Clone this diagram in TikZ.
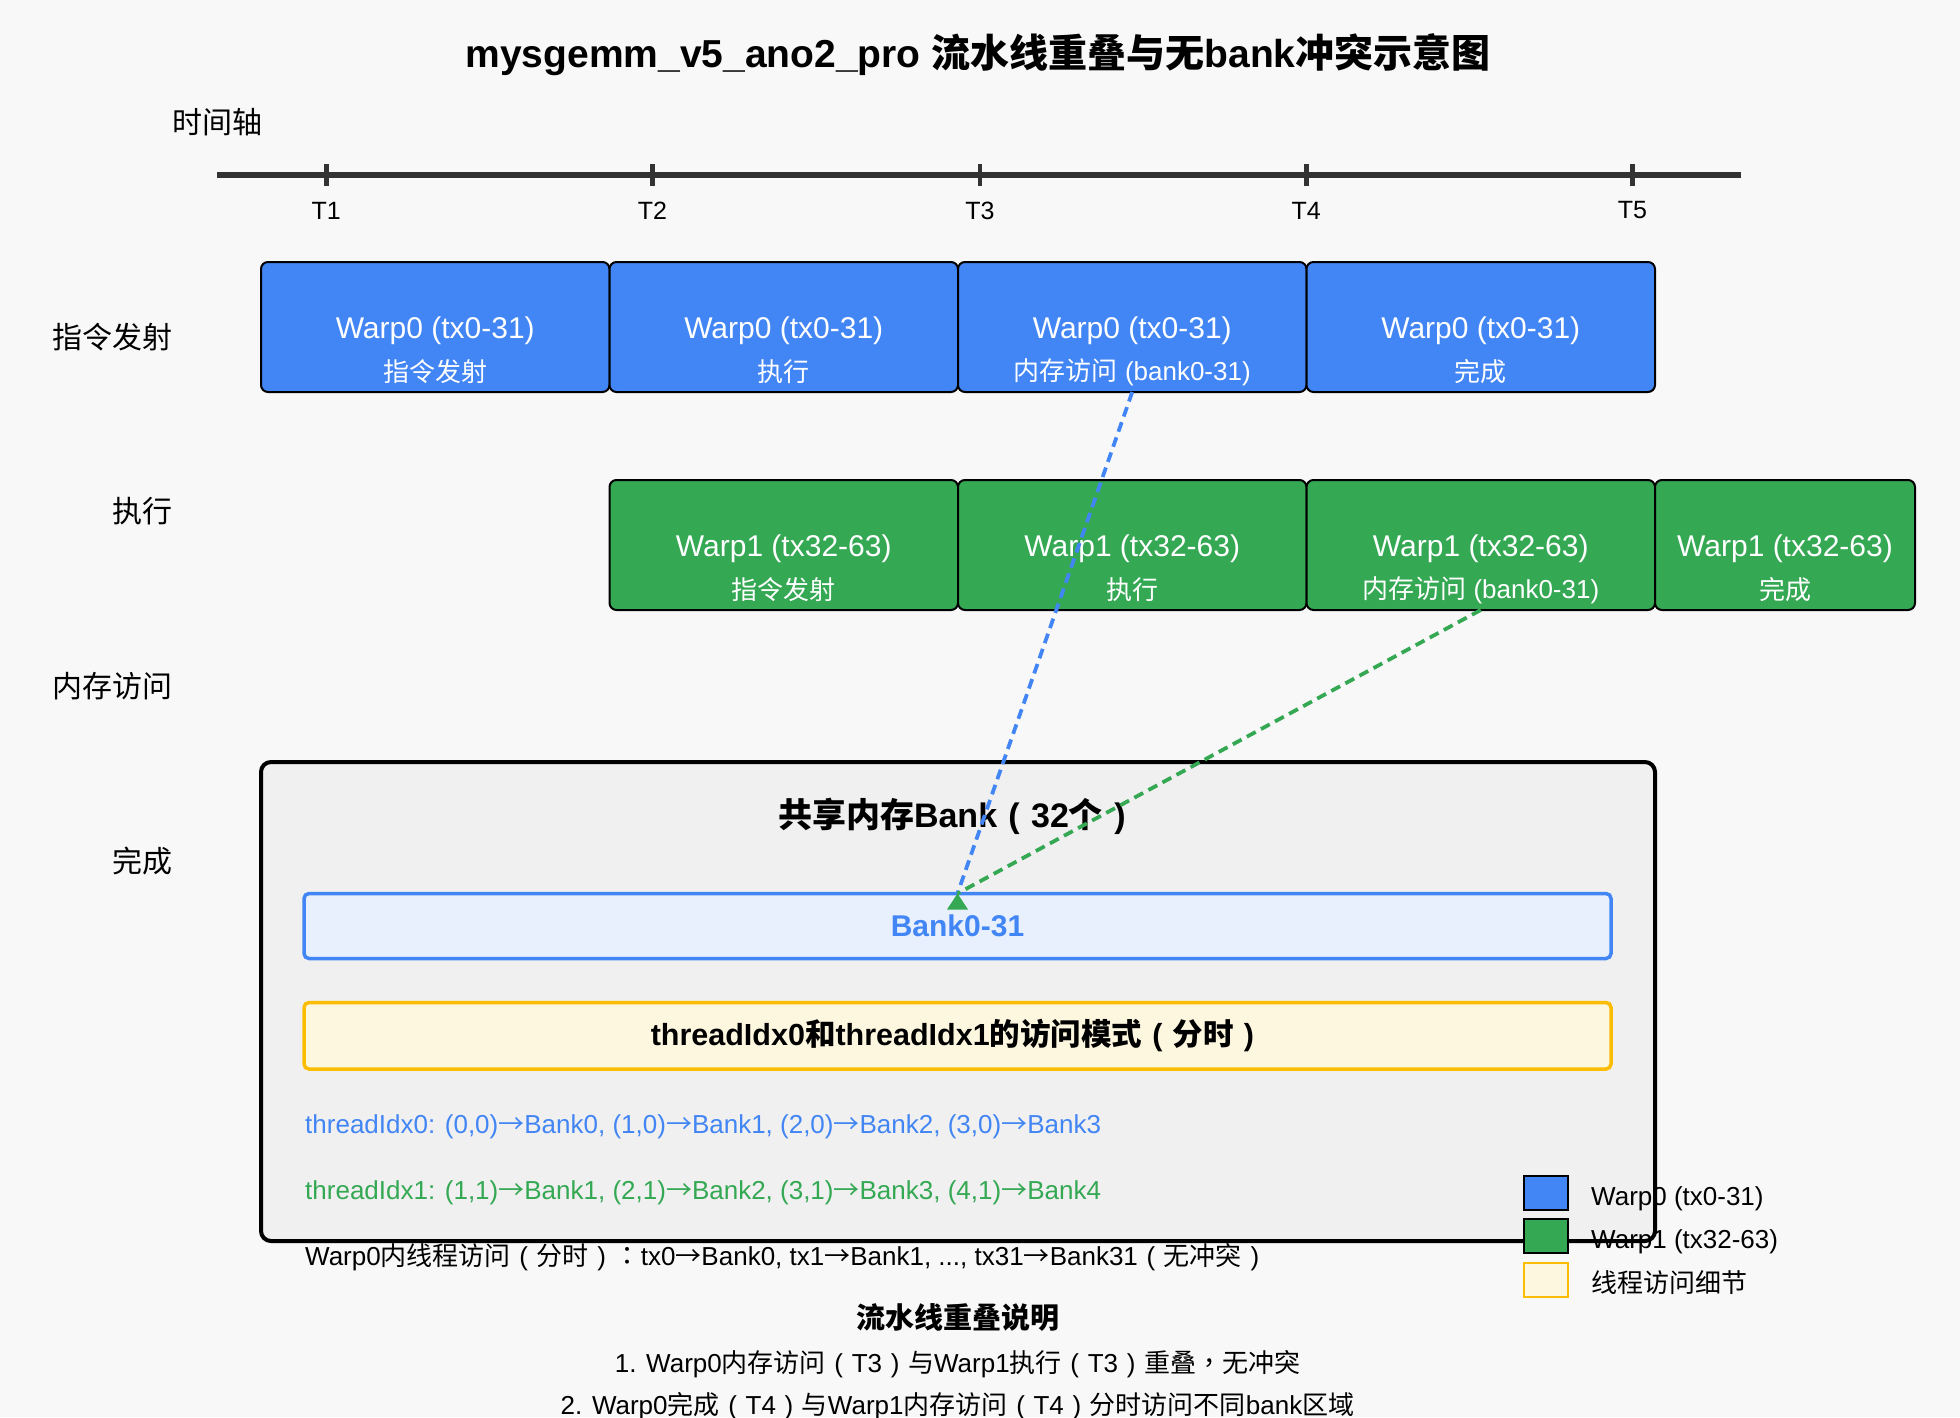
\documentclass[tikz,border=0pt]{standalone}
\usepackage{fontspec}
\setmainfont{Liberation Sans}
\newfontfamily\cjk{Noto Sans CJK SC}
\newfontfamily\cjkp{Noto Sans CJK TC}
\newcommand{\zh}[1]{{\cjk #1}}
\newcommand{\fw}[1]{{\cjkp #1}}
\newcommand{\lp}{\makebox[1em]{(}}
\newcommand{\rp}{\makebox[1em]{)}}
\newcommand{\ar}{\zh{→}}
\newcommand{\fs}[1]{\fontsize{#1pt}{#1pt}\selectfont}
\usepackage{tikz}
\usetikzlibrary{positioning}
\definecolor{wblue}{HTML}{4285F4}
\definecolor{wgreen}{HTML}{34A853}
\definecolor{wyellow}{HTML}{FBBC04}
\definecolor{lyellow}{HTML}{FEF7E0}
\definecolor{lblue}{HTML}{E8F0FE}
\definecolor{axisgray}{HTML}{333333}
\definecolor{bggray}{HTML}{F8F8F8}
\definecolor{boxgray}{HTML}{F0F0F0}

\begin{document}
\begin{tikzpicture}[x=1pt,y=-1pt,
  warp/.style={draw=black,line width=2pt,rounded corners=7pt,minimum height=130pt,minimum width=348.5pt,inner sep=0pt,outer sep=0pt,text=white,font=\fs{30}},
  w0box/.style={warp,fill=wblue},
  w1box/.style={warp,fill=wgreen},
  main/.style={text=white,font=\fs{30},inner sep=0pt},
  sub/.style={text=white,font=\fs{26},inner sep=0pt},
  rowlab/.style={anchor=east,font=\fs{30},inner sep=0pt},
  tlab/.style={font=\fs{25},inner sep=0pt},
  detail/.style={anchor=west,font=\fs{26},inner sep=0pt},
  legbox/.style={draw=black,line width=2pt,minimum width=44pt,minimum height=34pt,inner sep=0pt,outer sep=0pt},
  leglab/.style={font=\fs{26},inner sep=0pt},
  flow/.style={dashed,line width=3.75pt,dash pattern=on 10pt off 6pt}]
\useasboundingbox (0,0) rectangle (1960,1417);
\clip (0,0) rectangle (1960,1417);
\fill[bggray] (0,0) rectangle (1960,1417);

% title and time axis
\node[font=\fs{39}\bfseries] (title) at (978,55) {mysgemm\_v5\_ano2\_pro \zh{流水线重叠与无}bank\zh{冲突示意图}};
\node[font=\fs{30},inner sep=0pt] (axlab) at (217,122) {\zh{时间轴}};
\coordinate (ax0) at (217,175);
\coordinate (ax1) at (1741,175);
\draw[axisgray,line width=6pt] (ax0)--(ax1);
\foreach \t [count=\k] in {326.25,652.5,980,1306.25,1632.5}{
  \draw[axisgray,line width=4.5pt] (\t,164)--(\t,186);
  \node[tlab] (t\k) at (\t,210.5) {T\k};
}

% stage labels
\node[rowlab] (r1) at (172.5,337) {\zh{指令发射}};
\node[rowlab] (r2) at (172.5,511) {\zh{执行}};
\node[rowlab] (r3) at (172.5,686) {\zh{内存访问}};
\node[rowlab] (r4) at (172.5,861) {\zh{完成}};

% warp 0
\node[w0box,anchor=north west] (w0-1) at (261,262) {};
\node[w0box,right=0pt of w0-1] (w0-2) {};
\node[w0box,right=0pt of w0-2] (w0-3) {};
\node[w0box,right=0pt of w0-3] (w0-4) {};
\foreach \b/\s in {1/\zh{指令发射},2/\zh{执行},3/{\zh{内存访问} (bank0-31)},4/\zh{完成}}{
  \node[main] (w0-\b m) at ([yshift=-4pt]w0-\b.center) {Warp0 (tx0-31)};
  \node[sub] (w0-\b s) at ([yshift=-45pt]w0-\b.center) {\s};
}

% warp 1
\node[w1box,anchor=north west] (w1-1) at (609.5,480) {};
\node[w1box,right=0pt of w1-1] (w1-2) {};
\node[w1box,right=0pt of w1-2] (w1-3) {};
\node[w1box,right=0pt of w1-3,minimum width=260pt] (w1-4) {};
\foreach \b/\s in {1/\zh{指令发射},2/\zh{执行},3/{\zh{内存访问} (bank0-31)},4/\zh{完成}}{
  \node[main] (w1-\b m) at ([yshift=-4pt]w1-\b.center) {Warp1 (tx32-63)};
  \node[sub] (w1-\b s) at ([yshift=-45pt]w1-\b.center) {\s};
}

% shared memory
\node[draw=black,fill=boxgray,line width=4pt,rounded corners=10pt,minimum width=1394pt,minimum height=479pt,anchor=north west,outer sep=0pt] (shm) at (261,762) {};
\node[font=\fs{34}\bfseries,inner sep=0pt] (shmt) at (957.5,816) {\zh{共享内存}Bank\lp 32\zh{个}\rp};
\node[draw=wblue,fill=lblue,line width=3.5pt,rounded corners=5pt,minimum width=1307pt,minimum height=65pt,outer sep=0pt,text=wblue,font=\fs{30}\bfseries] (bank) at (957.5,926) {Bank0-31};
\node[draw=wyellow,fill=lyellow,line width=3.5pt,rounded corners=5pt,minimum width=1307pt,minimum height=66.5pt,outer sep=0pt,font=\fs{30.5}\bfseries] (mode) at (957.5,1035.75) {threadIdx0\zh{和}threadIdx1\zh{的访问模式}\lp\zh{分时}\rp};
\node[detail,text=wblue] (d0) at (305,1126.5) {threadIdx0: (0,0)\ar Bank0, (1,0)\ar Bank1, (2,0)\ar Bank2, (3,0)\ar Bank3};
\node[detail,text=wgreen] (d1) at (305,1192.5) {threadIdx1: (1,1)\ar Bank1, (2,1)\ar Bank2, (3,1)\ar Bank3, (4,1)\ar Bank4};
\node[detail] (d2) at (305,1257) {Warp0\zh{内线程访问}\lp\zh{分时}\rp\fw{：}tx0\ar Bank0, tx1\ar Bank1, ..., tx31\ar Bank31\lp\zh{无冲突}\rp};

% legend
\node[legbox,fill=wblue] (lg0) at (1545.5,1193) {};
\node[legbox,fill=wgreen] (lg1) at (1545.5,1236) {};
\node[legbox,draw=wyellow,fill=lyellow] (lg2) at (1545.5,1280) {};
\node[leglab,right=23.5pt of lg0,yshift=-6pt] (lg0t) {Warp0 (tx0-31)};
\node[leglab,right=23.5pt of lg1,yshift=-6pt] (lg1t) {Warp1 (tx32-63)};
\node[leglab,right=23.5pt of lg2,yshift=-3pt] (lg2t) {\zh{线程访问细节}};

% notes
\node[font=\fs{29}\bfseries,inner sep=0pt] (nt) at (957.5,1318) {\zh{流水线重叠说明}};
\node[font=\fs{26},inner sep=0pt] (n1) at (957.5,1364) {1. Warp0\zh{内存访问}\lp T3\rp\zh{与}Warp1\zh{执行}\lp T3\rp\zh{重叠}\fw{，}\zh{无冲突}};
\node[font=\fs{26},inner sep=0pt] (n2) at (957.5,1406) {2. Warp0\zh{完成}\lp T4\rp\zh{与}Warp1\zh{内存访问}\lp T4\rp\zh{分时访问不同}bank\zh{区域}};

% access paths
\draw[flow,wblue] (w0-3.south)--(bank.north);
\draw[flow,wgreen] (w1-3.south)--(bank.north);
\fill[wgreen] (bank.north) -- ++(-10.5,16) -- ++(21,0) -- cycle;
\end{tikzpicture}
\end{document}
